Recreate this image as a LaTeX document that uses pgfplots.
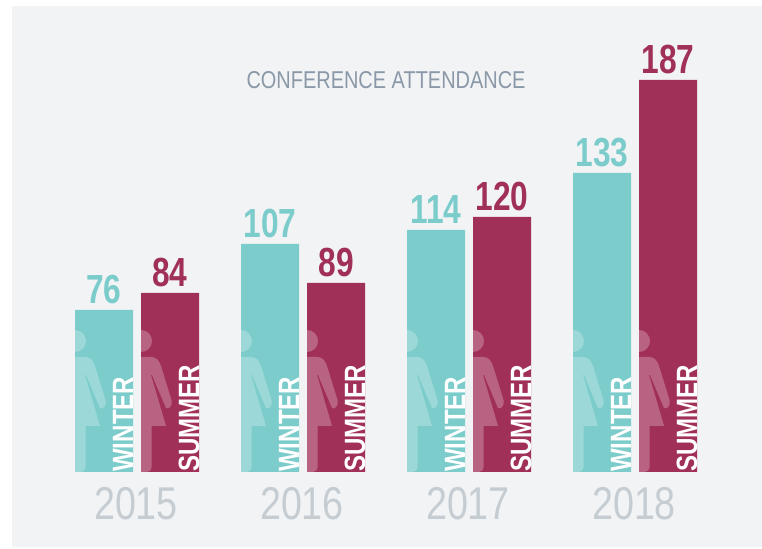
\documentclass[border=0pt]{standalone}
\usepackage{pgfplots}
\pgfplotsset{compat=1.18}
\usepackage{pgfplotstable}
\usepackage{fontspec}
\setmainfont{Liberation Sans}[FakeStretch=0.82]
\newfontfamily\valf{Liberation Sans}[FakeStretch=0.78]
\definecolor{panel}{HTML}{F2F3F5}
\definecolor{teal}{HTML}{7BCCCB}
\definecolor{crim}{HTML}{A13058}
\definecolor{yearc}{HTML}{C5CDD3}
\definecolor{titlec}{HTML}{8A98A8}
\pgfplotstableread{
x h lab
104 162 76
270 228 107
436 242 114
602 299 133
}\winter
\pgfplotstableread{
x h lab
170 179 84
336 189 89
502 255 120
668 392 187
}\summer
\newcommand{\person}[1]{%
\begin{scope}[shift={(axis cs:#1,0)},x=0.75pt,y=0.75pt]
\fill[white,opacity=.25] (0,120) arc (-90:90:11) -- cycle;
\fill[white,opacity=.25] (0,115) -- (10,115) .. controls (15,115) and (18,112) .. (20,106) -- (30.5,72)
 .. controls (32,67) and (28,62) .. (25,64) -- (11,97) -- (10,97) -- (25,46) -- (10.7,46) -- (10.7,5)
 .. controls (10.7,2) and (8.5,0) .. (5.7,0) -- (0,0) -- cycle;
\end{scope}}
\newcommand{\barword}[2]{\node[rotate=90,anchor=base west,inner sep=0pt,text=white,font=\fontsize{22}{22}\selectfont\bfseries] at (axis cs:#1,0) {#2};}
\begin{document}
\begin{tikzpicture}
\fill[white] (0,0) rectangle (571.5pt,411pt);
\fill[panel] (9pt,0.75pt) rectangle (571.5pt,406.5pt);
\begin{axis}[
 at={(0,0)},anchor=south west,
 x=0.75pt,y=0.75pt,
 xmin=0,xmax=762,ymin=-76,ymax=472,
 axis line style={draw=none},
 major tick length=0pt,
 clip=false,
 ytick=\empty,
 xtick={136,302,468,634},
 xticklabels={2015,2016,2017,2018},
 xtick pos=bottom,
 tick label style={font=\fontsize{34.5}{34.5}\selectfont,text=yearc},
 xticklabel style={anchor=base,yshift=21.5pt},
 ybar,bar shift=0pt,bar width=43.5pt,
 nodes near coords,
 point meta=explicit symbolic,
 every node near coord/.append style={font=\fontsize{30.5}{30.5}\valf\selectfont\bfseries,inner sep=0pt,anchor=base,yshift=4.5pt},
]
\addplot[fill=teal,draw=none,every node near coord/.append style={text=teal}] table[x=x,y=h,meta=lab]{\winter};
\addplot[fill=crim,draw=none,every node near coord/.append style={text=crim}] table[x=x,y=h,meta=lab]{\summer};
\person{75}\person{241}\person{407}\person{573}
\person{141}\person{307}\person{473}\person{639}
\barword{133}{WINTER}\barword{299}{WINTER}\barword{465}{WINTER}\barword{631}{WINTER}
\barword{199}{SUMMER}\barword{365}{SUMMER}\barword{531}{SUMMER}\barword{697}{SUMMER}
\node[font=\fontsize{18.25}{18.25}\selectfont,text=titlec,anchor=center] at (axis cs:386,392) {CONFERENCE ATTENDANCE};
\end{axis}
\end{tikzpicture}
\end{document}
